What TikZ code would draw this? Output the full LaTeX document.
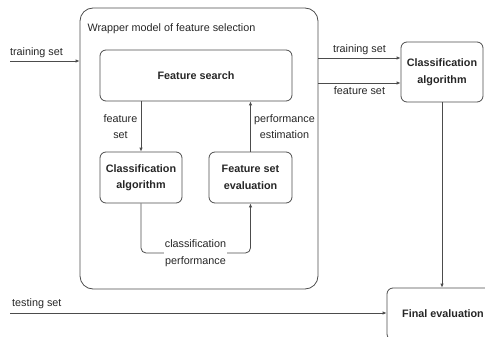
\documentclass[tikz,border=0pt]{standalone}
\usepackage{fontspec}
\setmainfont{Liberation Sans}
\usetikzlibrary{arrows.meta}

\begin{document}
\begin{tikzpicture}[x=1pt,y=-1pt,
        every node/.style={font=\fontsize{10.8}{16.5}\selectfont,text=black!85,align=center},
        box/.style={draw=black!70,line width=0.8pt,rounded corners=6pt,font=\fontsize{10.8}{16.5}\selectfont\bfseries},
        flow/.style={draw=black!70,line width=0.8pt,-{Latex[length=4pt,width=3.5pt]}}]

            \useasboundingbox (0,0) rectangle (485,337);

            \node[box,rounded corners=13pt,minimum width=238pt,minimum height=281pt] (wrapper) at (199,148.5) {};

            \node[anchor=west] (title) at (84,29) {Wrapper model of feature selection};

            \node[box,minimum width=192pt,minimum height=51pt] (search) at (196,75.5) {Feature search};

            \node[box,minimum width=82pt,minimum height=51pt] (clsin) at (141,177.5) {Classification\\algorithm};

            \node[box,minimum width=83pt,minimum height=51pt] (evalin) at (250.5,177.5) {Feature set\\evaluation};

            \node[box,minimum width=82pt,minimum height=60pt] (clsout) at (442,72) {Classification\\algorithm};

            \node[box,minimum width=112pt,minimum height=52pt] (final) at (443,314) {Final evaluation};

            \coordinate (trin) at (10,61);
            \coordinate (tein) at (10,313);

            \draw[flow] (trin) -- node[above,pos=0.38] {training set} (trin -| wrapper.west);
            \draw[flow] (tein) -- (tein -| final.west);
            \node[anchor=south west,inner sep=0pt] (telabel) at (12,309) {testing set};

            \draw[flow] (wrapper.east |- 0,58) -- node[above] {training set} (clsout.west |- 0,58);
            \draw[flow] (wrapper.east |- 0,83) -- node[below] {feature set} (clsout.west |- 0,83);
            \draw[flow] (clsout.south) -- (clsout.south |- final.north);

            \draw[flow] (search.south -| clsin) -- node[left] {feature\\set} (clsin.north);
            \draw[flow] (evalin.north) -- node[right] {performance\\estimation} (evalin.north |- search.south);
            \draw[flow,rounded corners=5pt] (clsin.south) -- (141,253) -| (evalin.south);
            \node[fill=white,inner sep=1pt] (perf) at (195.5,253) {classification\\performance};
\end{tikzpicture}
\end{document}
